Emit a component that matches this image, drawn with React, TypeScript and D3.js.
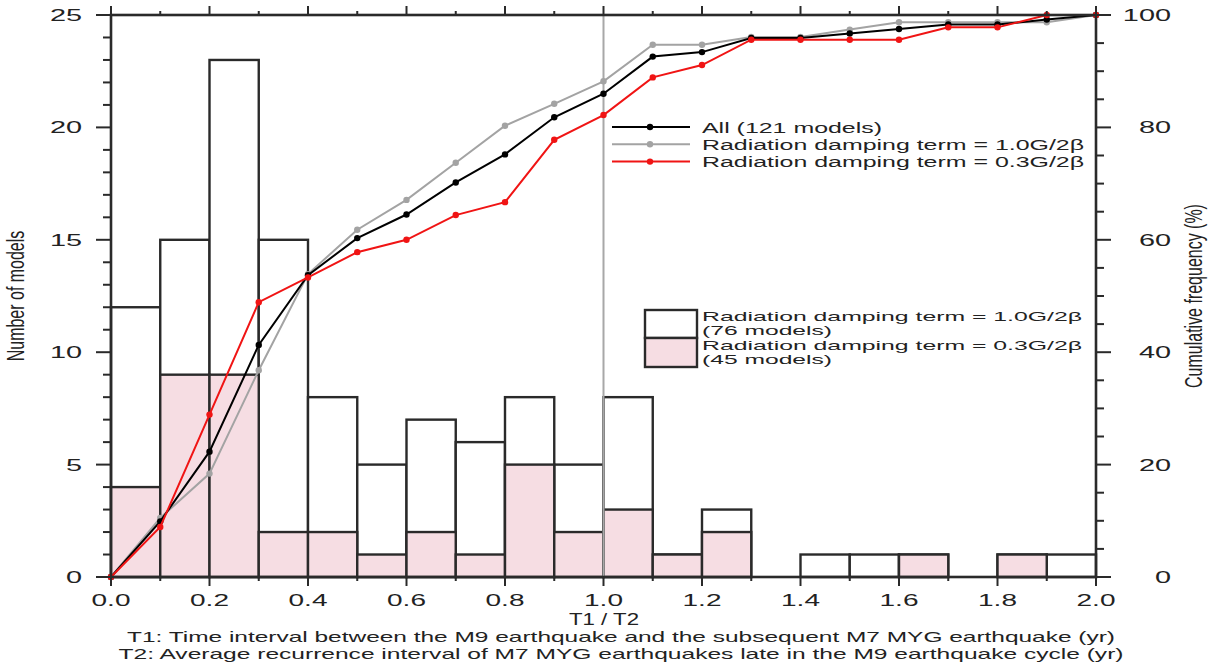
import React from "react";
import * as d3 from "d3";

// ---- data ----
const binLeft = [0.0, 0.1, 0.2, 0.3, 0.4, 0.5, 0.6, 0.7, 0.8, 0.9, 1.0, 1.1, 1.2, 1.3, 1.4, 1.5, 1.6, 1.7, 1.8, 1.9];
const totalCounts = [12, 15, 23, 15, 8, 5, 7, 6, 8, 5, 8, 1, 3, 0, 1, 1, 1, 0, 1, 1];
const lowDampingCounts = [4, 9, 9, 2, 2, 1, 2, 1, 5, 2, 3, 1, 2, 0, 0, 0, 1, 0, 1, 0];

const cumX = [0.0, 0.1, 0.2, 0.3, 0.4, 0.5, 0.6, 0.7, 0.8, 0.9, 1.0, 1.1, 1.2, 1.3, 1.4, 1.5, 1.6, 1.7, 1.8, 1.9, 2.0];
const cumAll = [0, 9.9, 22.3, 41.3, 53.7, 60.3, 64.5, 70.2, 75.2, 81.8, 86.0, 92.6, 93.4, 95.9, 95.9, 96.7, 97.5, 98.3, 98.3, 99.2, 100];
const cumHigh = [0, 10.5, 18.4, 36.8, 53.9, 61.8, 67.1, 73.7, 80.3, 84.2, 88.2, 94.7, 94.7, 96.1, 96.1, 97.4, 98.7, 98.7, 98.7, 98.7, 100];
const cumLow = [0, 8.9, 28.9, 48.9, 53.3, 57.8, 60.0, 64.4, 66.7, 77.8, 82.2, 88.9, 91.1, 95.6, 95.6, 95.6, 95.6, 97.8, 97.8, 100, 100];

const xTickLabels = ["0.0", "0.2", "0.4", "0.6", "0.8", "1.0", "1.2", "1.4", "1.6", "1.8", "2.0"];
const leftTickLabels = ["0", "5", "10", "15", "20", "25"];
const rightTickLabels = ["0", "20", "40", "60", "80", "100"];

const lineSeries = [
  { name: "Radiation damping term = 1.0G/2β", values: cumHigh, color: "#a3a3a3" },
  { name: "All (121 models)", values: cumAll, color: "#000000" },
  { name: "Radiation damping term = 0.3G/2β", values: cumLow, color: "#f01414" },
];
const lineLegend = ["All (121 models)", "Radiation damping term = 1.0G/2β", "Radiation damping term = 0.3G/2β"];
const lineLegendColors = ["#000000", "#a3a3a3", "#f01414"];
const boxLegend = ["Radiation damping term = 1.0G/2β", "(76 models)", "Radiation damping term = 0.3G/2β", "(45 models)"];

const FONT = "'Liberation Sans', Arial, Helvetica, sans-serif";
const PINK = "#f6dde3";
const INK = "#2a2a2a";

export default function App() {
  const x = d3.scaleLinear().domain([0, 2]).range([111, 1096]);
  const y = d3.scaleLinear().domain([0, 25]).range([577, 15]);
  const yr = d3.scaleLinear().domain([0, 100]).range([577, 15]);
  const bw = 0.1;
  const SX = 1.75;

  const line = (vals: number[]) =>
    d3.line<number>().x((_, i) => x(cumX[i])).y((v) => yr(v))(vals) || "";

  const xMinor = d3.range(0, 21).map((i) => i / 10);
  const leftMinor = d3.range(0, 26);
  const rightMinor = d3.range(0, 101, 5);

  const stretchText = (
    key: string,
    tx: number,
    ty: number,
    s: string,
    anchor: "start" | "middle" | "end",
    size: number,
    sx: number
  ) => (
    <text
      key={key}
      transform={`translate(${tx},${ty}) scale(${sx},1)`}
      textAnchor={anchor}
      fontSize={size}
      fontFamily={FONT}
      fill="#222"
    >
      {s}
    </text>
  );

  return (
    <svg
      width={1224}
      height={663}
      style={{ position: "absolute", left: 0, top: 0, background: "#fff" }}
    >
      {/* bars: total (white) then low damping (pink) */}
      {binLeft.map((b, i) =>
        totalCounts[i] > 0 ? (
          <rect
            key={"t" + i}
            x={x(b)}
            y={y(totalCounts[i])}
            width={x(b + bw) - x(b)}
            height={y(0) - y(totalCounts[i])}
            fill="#fff"
            stroke={INK}
            strokeWidth={2.4}
          />
        ) : null
      )}
      {binLeft.map((b, i) =>
        lowDampingCounts[i] > 0 ? (
          <rect
            key={"p" + i}
            x={x(b)}
            y={y(lowDampingCounts[i])}
            width={x(b + bw) - x(b)}
            height={y(0) - y(lowDampingCounts[i])}
            fill={PINK}
            stroke={INK}
            strokeWidth={2.4}
          />
        ) : null
      )}

      {/* vertical reference line at 1.0 */}
      <line x1={x(1)} x2={x(1)} y1={y(25)} y2={y(0)} stroke="#a8a8a8" strokeWidth={2} />

      {/* cumulative lines */}
      {lineSeries.map((s) => (
        <g key={s.name}>
          <path d={line(s.values)} fill="none" stroke={s.color} strokeWidth={2} />
          {s.values.map((v, i) => (
            <circle key={i} cx={x(cumX[i])} cy={yr(v)} r={3.2} fill={s.color} />
          ))}
        </g>
      ))}

      {/* frame */}
      <rect x={x(0)} y={y(25)} width={x(2) - x(0)} height={y(0) - y(25)} fill="none" stroke={INK} strokeWidth={2.6} />

      {/* bottom & top ticks */}
      {xMinor.map((v, i) => {
        const major = i % 2 === 0;
        const len = major ? 9 : 4;
        return (
          <g key={"xt" + i}>
            <line x1={x(v)} x2={x(v)} y1={y(0)} y2={y(0) + len} stroke={INK} strokeWidth={2} />
            <line x1={x(v)} x2={x(v)} y1={y(25)} y2={y(25) - len} stroke={INK} strokeWidth={2} />
          </g>
        );
      })}
      {/* left ticks */}
      {leftMinor.map((v) => {
        const len = v % 5 === 0 ? 15 : 8;
        return <line key={"lt" + v} x1={x(0) - len} x2={x(0)} y1={y(v)} y2={y(v)} stroke={INK} strokeWidth={2} />;
      })}
      {/* right ticks */}
      {rightMinor.map((v) => {
        const len = v % 20 === 0 ? 15 : 8;
        return <line key={"rt" + v} x1={x(2)} x2={x(2) + len} y1={yr(v)} y2={yr(v)} stroke={INK} strokeWidth={2} />;
      })}

      {/* tick labels */}
      {xTickLabels.map((s) => stretchText("xl" + s, x(+s), 606, s, "middle", 16, SX))}
      {leftTickLabels.map((s) => stretchText("ll" + s, 82, y(+s) + 6, s, "end", 16.5, SX))}
      {rightTickLabels.map((s) => stretchText("rl" + s, 1171, yr(+s) + 6, s, "end", 16.5, SX))}

      {/* axis titles */}
      <text
        transform={`translate(24,${(y(0) + y(25)) / 2}) scale(1.5,1) rotate(-90)`}
        textAnchor="middle"
        fontSize={16}
        fontFamily={FONT}
        fill="#222"
      >
        Number of models
      </text>
      <text
        transform={`translate(1202,${(y(0) + y(25)) / 2}) scale(1.5,1) rotate(-90)`}
        textAnchor="middle"
        fontSize={16}
        fontFamily={FONT}
        fill="#222"
      >
        Cumulative frequency (%)
      </text>
      <text x={604} y={625} textAnchor="middle" fontSize={16} fontFamily={FONT} fill="#222" textLength={70} lengthAdjust="spacingAndGlyphs">
        T1 / T2
      </text>
      <text x={621} y={642} textAnchor="middle" fontSize={15} fontFamily={FONT} fill="#222" textLength={988} lengthAdjust="spacingAndGlyphs">
        T1: Time interval between the M9 earthquake and the subsequent M7 MYG earthquake (yr)
      </text>
      <text x={621} y={659} textAnchor="middle" fontSize={15} fontFamily={FONT} fill="#222" textLength={1005} lengthAdjust="spacingAndGlyphs">
        T2: Average recurrence interval of M7 MYG earthquakes late in the M9 earthquake cycle (yr)
      </text>

      {/* line legend */}
      {lineLegend.map((s, i) => {
        const ly = 127 + i * 17.3;
        return (
          <g key={"lg" + i}>
            <line x1={612} x2={690} y1={ly} y2={ly} stroke={lineLegendColors[i]} strokeWidth={2} />
            <circle cx={650} cy={ly} r={3.2} fill={lineLegendColors[i]} />
            <text
              x={702}
              y={ly + 5.5}
              fontSize={15.5}
              fontFamily={FONT}
              fill="#222"
              textLength={i === 0 ? 180 : 382}
              lengthAdjust="spacingAndGlyphs"
            >
              {s}
            </text>
          </g>
        );
      })}

      {/* box legend */}
      <rect x={645} y={310} width={52} height={28} fill="#fff" stroke={INK} strokeWidth={2.4} />
      <rect x={645} y={338} width={52} height={29} fill={PINK} stroke={INK} strokeWidth={2.4} />
      {boxLegend.map((s, i) => (
        <text
          key={"bl" + i}
          x={702}
          y={321 + i * 14.4}
          fontSize={13.5}
          fontFamily={FONT}
          fill="#222"
          textLength={i % 2 === 0 ? 380 : 130}
          lengthAdjust="spacingAndGlyphs"
        >
          {s}
        </text>
      ))}
    </svg>
  );
}
